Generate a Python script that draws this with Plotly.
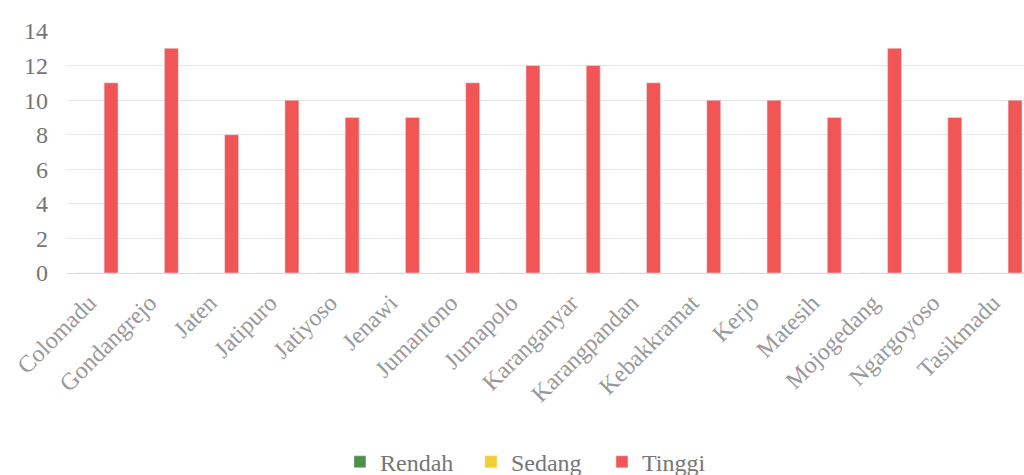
import plotly.graph_objects as go

categories = ["Colomadu", "Gondangrejo", "Jaten", "Jatipuro", "Jatiyoso", "Jenawi",
              "Jumantono", "Jumapolo", "Karanganyar", "Karangpandan", "Kebakkramat",
              "Kerjo", "Matesih", "Mojogedang", "Ngargoyoso", "Tasikmadu"]
rendah = [0] * 16
sedang = [0] * 16
tinggi = [11, 13, 8, 10, 9, 9, 11, 12, 12, 11, 10, 10, 9, 13, 9, 10]
y_ticks = [0, 2, 4, 6, 8, 10, 12, 14]

FONT = "Liberation Serif"
TXT = "#767676"

fig = go.Figure()
fig.add_trace(go.Bar(name="Rendah", x=categories, y=rendah, marker_color="#4e8f4a"))
fig.add_trace(go.Bar(name="Sedang", x=categories, y=sedang, marker_color="#f2cf2e"))
fig.add_trace(go.Bar(name="Tinggi", x=categories, y=tinggi, marker_color="#f25555"))

fig.update_layout(
    width=1024, height=475,
    margin=dict(l=67, r=0, t=31, b=202),
    paper_bgcolor="white", plot_bgcolor="white",
    barmode="group", bargap=0.305, bargroupgap=0,
    font=dict(family=FONT, color=TXT, size=24),
    legend=dict(orientation="h", xref="container", yref="container",
                x=0.332, xanchor="left", y=0.027, yanchor="middle",
                font=dict(size=24, color=TXT, family=FONT), itemwidth=30,
                entrywidth=86, traceorder="normal"),
    showlegend=True,
)
fig.update_xaxes(type="category", range=[-0.5, 15.38], tickangle=-45,
                 showgrid=False, showline=False, ticks="",
                 ticklabelstandoff=10, ticklabelshift=-8,
                 tickfont=dict(size=24, color="#999999", family=FONT),
                 automargin=False)
fig.update_yaxes(range=[0, 14], tickvals=y_ticks, showgrid=True,
                 gridcolor="#e6e6e6", gridwidth=1, zeroline=True,
                 zerolinecolor="#d9d9d9", zerolinewidth=1, ticks="",
                 ticklabelstandoff=18,
                 tickfont=dict(size=24, color=TXT, family=FONT),
                 automargin=False)

fig.write_html("out.html", config={"displayModeBar": False},
               post_script="document.body.style.margin='0';document.body.style.overflow='hidden';")
